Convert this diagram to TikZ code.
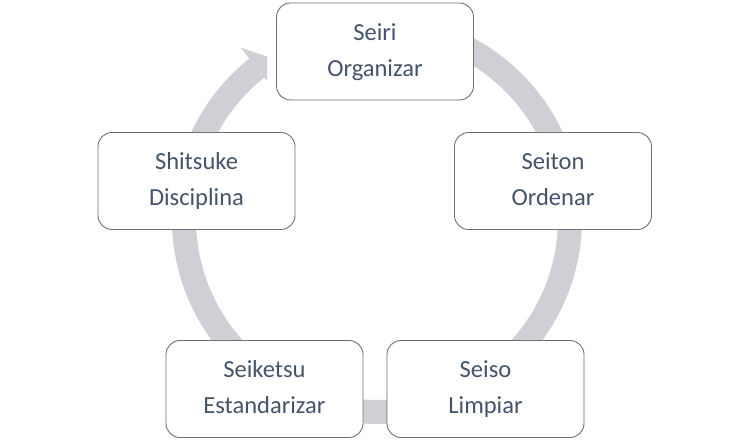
\documentclass[tikz,border=0pt]{standalone}
\usepackage{fontspec}
\setmainfont{Carlito}
\usetikzlibrary{calc}
\definecolor{ringgray}{RGB}{207,208,213}
\definecolor{txtcol}{RGB}{68,84,106}
\definecolor{edgecol}{RGB}{112,112,112}
\newcommand{\topst}{\rule{0pt}{19pt}}
\newcommand{\botst}{\rule[-5.5pt]{0pt}{5.5pt}}
\tikzset{
  stagebox/.style={draw=edgecol, line width=0.9pt, fill=white, rounded corners=14pt,
    minimum width=197pt, minimum height=97pt, inner sep=0pt, align=center,
    text=txtcol, font=\fontsize{24.5pt}{36pt}\selectfont},
  ringfill/.style={fill=ringgray}
}
\begin{document}
\begin{tikzpicture}[x=1pt,y=1pt]
\fill[white] (0,0) rectangle (750,442);
\useasboundingbox (0,0) rectangle (750,442);
\coordinate (c) at (377,223);
% ring shaft
\fill[ringfill] ($(c)+(85:205)$) arc[start angle=85,end angle=-231.5,radius=205]
  -- ($(c)+(128.5:181)$) arc[start angle=-231.5,end angle=85,radius=181] -- cycle;
% arrow head (cut on its right side)
\begin{scope}
\clip (0,0) rectangle (267,442);
\fill[ringfill] ($(c)+(128.5:219)$) -- ($(c)+(119.5:178)$) -- ($(c)+(128.5:160)$) -- cycle;
\end{scope}
% stages
\node[stagebox] (seiri) at (375,390.5) {\topst Seiri\\Organizar\botst};
\node[stagebox] (seiton) at (553,261) {\topst Seiton\\Ordenar\botst};
\node[stagebox] (seiso) at (485.5,53) {\topst Seiso\\Limpiar\botst};
\node[stagebox] (seiketsu) at (264.5,53) {\topst Seiketsu\\Estandarizar\botst};
\node[stagebox] (shitsuke) at (196.5,261) {\topst Shitsuke\\Disciplina\botst};
\end{tikzpicture}
\end{document}
